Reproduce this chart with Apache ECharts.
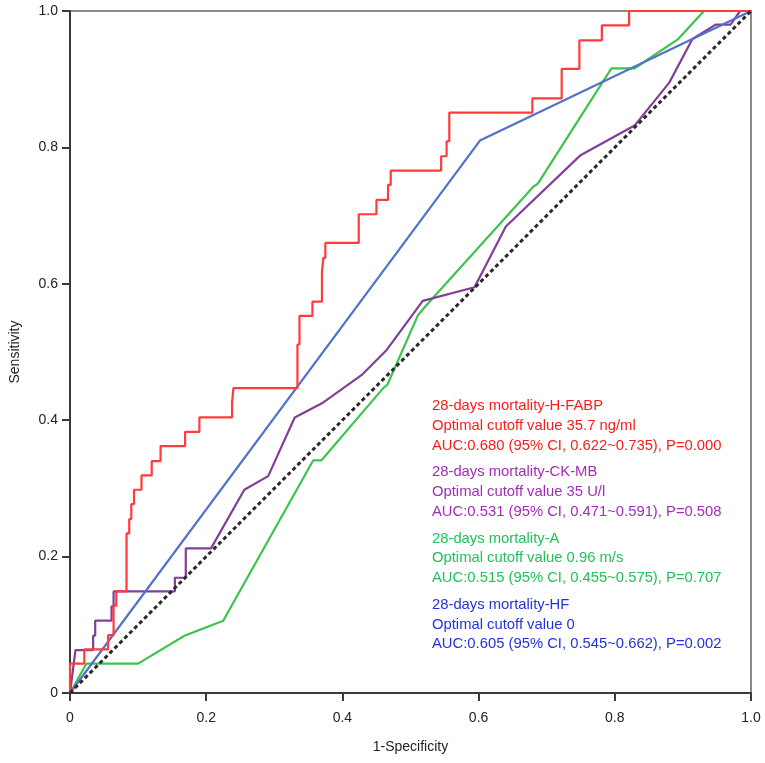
<!DOCTYPE html>
<html><head><meta charset="utf-8">
<script src="https://cdn.jsdelivr.net/npm/echarts@6/dist/echarts.min.js"></script>
<style>html,body{margin:0;padding:0;background:#fff}#c{width:765px;height:763px}</style>
</head><body><div id="c"></div>
<script>
// tick values for both axes
var tickValues = [0, 0.2, 0.4, 0.6, 0.8, 1.0];
var xAxisName = '1-Specificity';
var yAxisName = 'Sensitivity';

// ROC curves as [1-specificity, sensitivity]
var hfabp = [[0,0],[0,0.043],[0.021,0.043],[0.021,0.064],[0.056,0.064],[0.056,0.085],[0.064,0.085],[0.064,0.128],[0.068,0.128],[0.068,0.149],[0.083,0.149],[0.083,0.234],[0.087,0.234],[0.087,0.255],[0.090,0.255],[0.090,0.277],[0.094,0.277],[0.094,0.298],[0.105,0.298],[0.105,0.319],[0.120,0.319],[0.120,0.340],[0.133,0.340],[0.133,0.362],[0.169,0.362],[0.169,0.383],[0.190,0.383],[0.190,0.404],[0.238,0.404],[0.238,0.426],[0.240,0.426],[0.240,0.447],[0.334,0.447],[0.334,0.511],[0.337,0.511],[0.337,0.553],[0.356,0.553],[0.356,0.574],[0.370,0.574],[0.370,0.617],[0.372,0.617],[0.372,0.638],[0.375,0.638],[0.375,0.660],[0.424,0.660],[0.424,0.702],[0.450,0.702],[0.450,0.723],[0.467,0.723],[0.467,0.745],[0.471,0.745],[0.471,0.766],[0.545,0.766],[0.545,0.787],[0.553,0.787],[0.553,0.809],[0.557,0.809],[0.557,0.851],[0.679,0.851],[0.679,0.872],[0.722,0.872],[0.722,0.915],[0.748,0.915],[0.748,0.957],[0.781,0.957],[0.781,0.979],[0.821,0.979],[0.821,1.0],[1.0,1.0]];
var ckmb = [[0,0],[0.008,0.063],[0.034,0.063],[0.034,0.084],[0.037,0.084],[0.037,0.106],[0.061,0.106],[0.061,0.127],[0.064,0.127],[0.064,0.149],[0.154,0.149],[0.154,0.169],[0.170,0.169],[0.170,0.212],[0.207,0.212],[0.256,0.298],[0.291,0.318],[0.330,0.404],[0.372,0.426],[0.428,0.466],[0.465,0.503],[0.518,0.575],[0.594,0.595],[0.640,0.684],[0.749,0.788],[0.829,0.832],[0.880,0.895],[0.914,0.959],[0.948,0.980],[0.970,0.980],[0.984,1.0],[1.0,1.0]];
var velA = [[0,0],[0.024,0.043],[0.100,0.043],[0.168,0.084],[0.225,0.106],[0.234,0.122],[0.357,0.341],[0.369,0.341],[0.460,0.447],[0.466,0.452],[0.511,0.554],[0.521,0.566],[0.680,0.742],[0.687,0.747],[0.795,0.916],[0.829,0.916],[0.892,0.958],[0.931,1.0],[1.0,1.0]];
var hf = [[0,0],[0.602,0.810],[1.0,1.0]];
var reference = [[0,0],[1,1]];

var labelBlocks = [
  ['28-days mortality-H-FABP','Optimal cutoff value 35.7 ng/ml','AUC:0.680 (95% CI, 0.622~0.735), P=0.000'],
  ['28-days mortality-CK-MB','Optimal cutoff value 35 U/l','AUC:0.531 (95% CI, 0.471~0.591), P=0.508'],
  ['28-days mortality-A','Optimal cutoff value 0.96 m/s','AUC:0.515 (95% CI, 0.455~0.575), P=0.707'],
  ['28-days mortality-HF','Optimal cutoff value 0','AUC:0.605 (95% CI, 0.545~0.662), P=0.002']
];
var textColors = ['#ff1a1a','#a22db6','#22c15a','#2233dd'];

var FONT = 'Liberation Sans, Arial, Helvetica, sans-serif';
var chart = echarts.init(document.getElementById('c'));
function fmt(v){ return v===0 ? '0' : v.toFixed(1); }
function axisCommon(name, gap, margin){
  return {
    type:'value', min:tickValues[0], max:tickValues[tickValues.length-1], interval:0.2,
    name:name, nameLocation:'middle', nameGap:gap,
    nameTextStyle:{fontFamily:FONT, fontSize:14, color:'#222'},
    axisLine:{show:true, onZero:false, lineStyle:{color:'#3a3a3a', width:2}},
    axisTick:{show:true, length:8, lineStyle:{color:'#3a3a3a', width:2}},
    axisLabel:{fontFamily:FONT, fontSize:14, color:'#222', margin:margin, formatter:fmt},
    splitLine:{show:false}
  };
}
var graphics = [];
labelBlocks.forEach(function(b,i){
  graphics.push({type:'text', left:432, top:396 + i*66.3,
    style:{text:b.join('\n'), fill:textColors[i], font:'14.8px '+FONT, lineHeight:19.8}});
});
function line(data,color,w,z,type){
  return {type:'line', data:data, showSymbol:false, symbol:'none', z:z, animation:false,
    lineStyle:{color:color, width:w, type:type||'solid'}};
}
chart.setOption({
  animation:false,
  backgroundColor:'#fff',
  grid:{left:70, right:14, top:11, bottom:70, show:true, borderColor:'#8a8a8a', borderWidth:2},
  xAxis: axisCommon(xAxisName,47,18),
  yAxis: axisCommon(yAxisName,48,12),
  series:[
    line(velA,'#3ec44c',2.2,2),
    line(ckmb,'#80409a',2.2,3),
    line(hf,'#5272c9',2.2,4),
    line(hfabp,'#ff3b3b',2.2,5),
    line(reference,'#2a2a2a',3,6,[4,3])
  ],
  graphic: graphics
});
</script></body></html>
